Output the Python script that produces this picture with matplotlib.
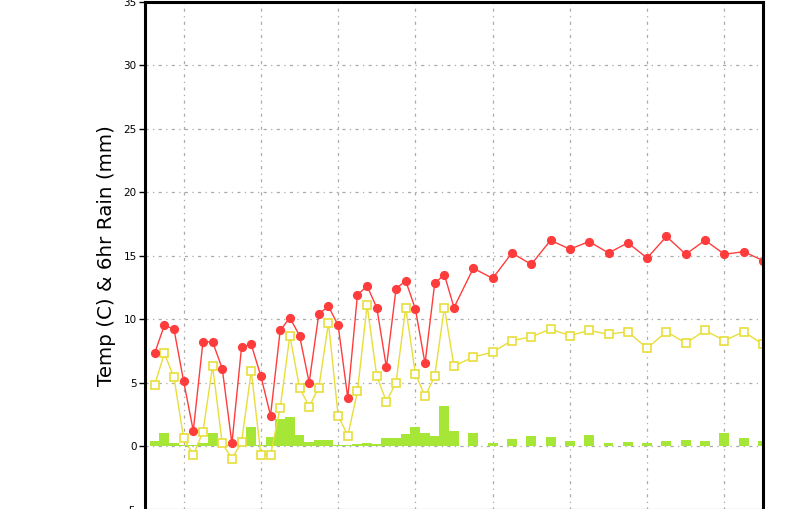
import matplotlib.pyplot as plt

# forecast hours (3-hourly first, then 6-hourly)
hours = [-9, -6, -3, 0, 3, 6, 9, 12, 15, 18, 21, 24, 27, 30, 33, 36,
         39, 42, 45, 48, 51, 54, 57, 60, 63, 66, 69, 72, 75, 78, 81, 84,
         90, 96, 102, 108, 114, 120, 126, 132, 138, 144, 150, 156, 162, 168, 174, 180]

# temperature (C)
temp = [7.3, 9.5, 9.2, 5.1, 1.2, 8.2, 8.2, 6.1, 0.2, 7.8, 8.0, 5.5, 2.4, 9.1, 10.1, 8.7,
        5.0, 10.4, 11.0, 9.5, 3.8, 11.9, 12.6, 10.9, 6.2, 12.4, 13.0, 10.8, 6.5, 12.8, 13.5, 10.9,
        14.0, 13.2, 15.2, 14.3, 16.2, 15.5, 16.1, 15.2, 16.0, 14.8, 16.5, 15.1, 16.2, 15.1, 15.3, 14.6]

# dew point (C)
dewpt = [4.8, 7.3, 5.4, 0.6, -0.7, 1.1, 6.3, 0.2, -1.0, 0.3, 5.9, -0.7, -0.7, 3.0, 8.7, 4.6,
         3.1, 4.6, 9.7, 2.4, 0.8, 4.3, 11.1, 5.5, 3.5, 5.0, 10.9, 5.7, 3.9, 5.5, 10.9, 6.3,
         7.0, 7.4, 8.3, 8.6, 9.2, 8.7, 9.1, 8.8, 9.0, 7.7, 9.0, 8.1, 9.1, 8.3, 9.0, 8.0]

# 6hr rain (mm)
rain = [0.37, 1.0, 0.2, 0.08, 0.05, 0.2, 1.0, 0.1, 0.05, 0.05, 1.5, 0.1, 0.71, 2.13, 2.28, 0.87,
        0.31, 0.47, 0.47, 0.05, 0.05, 0.15, 0.23, 0.15, 0.63, 0.63, 0.92, 1.47, 1.0, 0.76, 3.14, 1.18,
        1.05, 0.24, 0.55, 0.79, 0.71, 0.39, 0.87, 0.24, 0.31, 0.24, 0.39, 0.47, 0.39, 1.02, 0.63, 0.39]

day_ticks = [0, 24, 48, 72, 96, 120, 144, 168]
y_ticks = [-5, 0, 5, 10, 15, 20, 25, 30, 35]

fig = plt.figure(figsize=(8, 5.09), dpi=100)
ax = fig.add_axes([145 / 800, -0.001, 618 / 800, 0.998])

ax.bar(hours, rain, width=3.1, color='#a5e636', zorder=2)
ax.plot(hours, dewpt, color='#e8de3a', lw=1, marker='s', ms=5.2,
        mfc='white', mec='#e8de3a', mew=1.2, zorder=3)
ax.plot(hours, temp, color='#ff3c3c', lw=1, marker='o', ms=5.6,
        mfc='#ff3c3c', mec='#ff3c3c', zorder=4)

ax.set_xlim(-12, 180)
ax.set_ylim(-5, 35)
ax.set_xticks(day_ticks)
ax.set_xticklabels([])
ax.set_yticks(y_ticks)
ax.tick_params(axis='x', length=0)
ax.tick_params(axis='y', length=4, width=1, pad=2, labelsize=7.5)

ax.grid(True, color='#aaaaaa', lw=0.9, linestyle=(0, (2.5, 3.5, 1, 3.5)), zorder=1)
ax.set_axisbelow(True)

for side in ['left', 'right', 'top', 'bottom']:
    ax.spines[side].set_linewidth(2.2)
    ax.spines[side].set_zorder(5)

fig.text(106 / 800, 0.497, 'Temp (C) & 6hr Rain (mm)', rotation=90,
         ha='center', va='center', fontsize=14.3)

fig.savefig('out.png', dpi=100)
